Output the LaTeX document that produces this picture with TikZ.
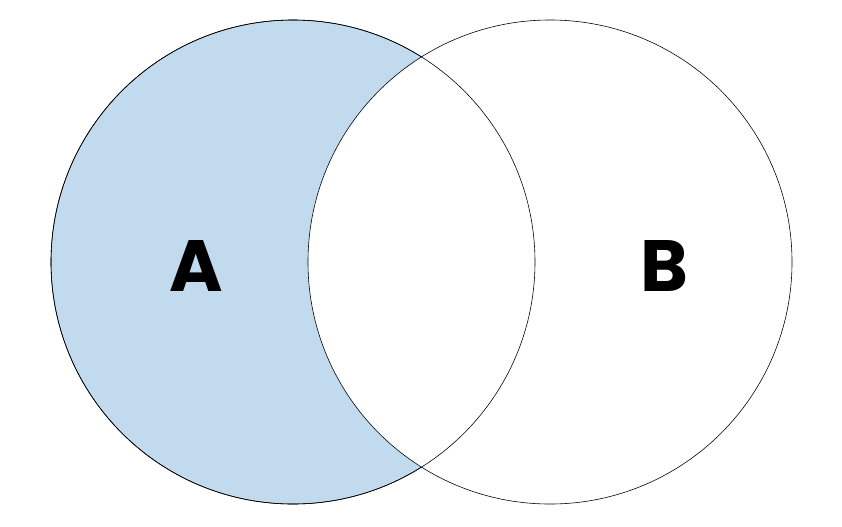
\documentclass[tikz,border=0pt]{standalone}
\usepackage{fontspec}
\newfontfamily\labelfont{Poppins}
\usetikzlibrary{positioning}
\definecolor{setblue}{RGB}{194,218,238}
\begin{document}
\begin{tikzpicture}[
    x=0.03cm, y=-0.03cm,
    set/.style={
        circle,
        draw=black,
        line width=0.5pt,
        minimum size=14.52cm,
        inner sep=0pt
    },
    setlabel/.style={
        font=\labelfont\bfseries\fontsize{62}{62}\selectfont
    }]

   \useasboundingbox (0,0) rectangle (842,526);
   \node[set, fill=setblue] (A) at (293,262) {};
   \node[set, fill=white] (B) at (550,262) {};
   \draw[line width=0.5pt] (293,262) circle (242);
   \node[setlabel] (la) at (196,266) {A};
   \node[setlabel] (lb) at (664,266) {B};
\end{tikzpicture}
\end{document}
